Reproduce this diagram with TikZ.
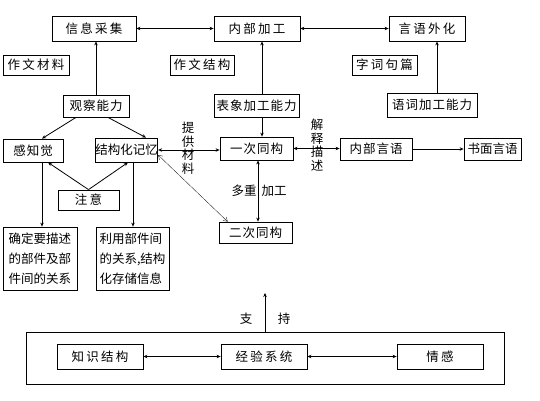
\documentclass[tikz,border=0pt]{standalone}
\usepackage{fontspec}
\newfontfamily\cjk{Noto Sans CJK SC}
\newfontfamily\cjkw[LetterSpace=18]{Noto Sans CJK SC}
\newfontfamily\cjkm[LetterSpace=8]{Noto Sans CJK SC}
\usetikzlibrary{arrows.meta}
\begin{document}
\begin{tikzpicture}[x=1pt,y=-1pt,
  box/.style={draw, line width=0.8pt, inner sep=0pt, font=\cjkm\fontsize{12.5}{14}\selectfont},
  wbox/.style={box, font=\cjkw\fontsize{12.5}{14}\selectfont},
  tbox/.style={box, font=\cjk\fontsize{12.5}{14}\selectfont},
  lbl/.style={inner sep=0pt, font=\cjk\fontsize{12.5}{13.5}\selectfont},
  tip/.style={Stealth[length=4pt,width=3.5pt]},
  arr/.style={line width=0.8pt, -{Stealth[length=4pt,width=3.5pt]}},
  darr/.style={line width=0.8pt, {Stealth[length=4pt,width=3.5pt]}-{Stealth[length=4pt,width=3.5pt]}},
  thin/.style={line width=0.3pt, {Straight Barb[length=4pt,width=5pt]}-{Straight Barb[length=4pt,width=5pt]}}
]
\useasboundingbox (0,0) rectangle (540,400);
% top row
\node[wbox, minimum width=84pt, minimum height=25pt] (xx) at (94,28.5) {信息采集};
\node[wbox, minimum width=86pt, minimum height=25pt] (nb) at (257,28.5) {内部加工};
\node[wbox, minimum width=76pt, minimum height=25pt] (yy) at (427,28.5) {言语外化};
% labels row
\node[tbox, font=\cjkw\fontsize{12.5}{14}\selectfont, minimum width=66pt, minimum height=20pt] (zwcl) at (36,65) {作文材料};
\node[tbox, font=\cjkw\fontsize{12.5}{14}\selectfont, minimum width=64pt, minimum height=20pt] (zwjg) at (202,65) {作文结构};
\node[tbox, font=\cjkw\fontsize{12.5}{14}\selectfont, minimum width=65pt, minimum height=20pt] (zcjp) at (384.5,65) {字词句篇};
% ability row
\node[box, minimum width=66pt, minimum height=22pt] (gc) at (96,106) {观察能力};
\node[box, minimum width=85pt, minimum height=23pt] (bx) at (256.5,105.5) {表象加工能力};
\node[box, minimum width=90pt, minimum height=24pt] (yc) at (432,105) {语词加工能力};
% middle row
\node[box, minimum width=60pt, minimum height=23pt] (gz) at (33,150.5) {感知觉};
\node[tbox, minimum width=61pt, minimum height=24pt] (jg) at (126.5,150) {结构化记忆};
\node[box, minimum width=73pt, minimum height=23pt] (yi) at (256.5,148.5) {一次同构};
\node[box, minimum width=72pt, minimum height=22pt] (ny) at (376,149) {内部言语};
\node[tbox, minimum width=57pt, minimum height=22pt] (sm) at (492.5,149) {书面言语};
\node[wbox, minimum width=61pt, minimum height=20pt] (zy) at (88.5,200) {注意};
\node[box, minimum width=73pt, minimum height=21pt] (er) at (255.5,232.5) {二次同构};
\node[box, minimum width=74pt, minimum height=63pt, align=left, font=\cjk\fontsize{12.5}{20}\selectfont] (qd) at (40,258.5) {确定要描述\\的部件及部\\件间的关系};
\node[box, minimum width=73pt, minimum height=63pt, align=left, font=\cjk\fontsize{12.5}{20}\selectfont] (ly) at (132.5,258.5) {利用部件间\\的关系,结构\\化存储信息};
% vertical labels
\node[lbl, align=center] (tg) at (188,148) {提\\供\\材\\料};
\node[lbl, align=center] (js) at (317,145) {解\\释\\描\\述};
\node[lbl] (dz) at (244,191) {多重};
\node[lbl] (jgg) at (274,191) {加工};
% bottom
\node[draw, line width=0.8pt, minimum width=478pt, minimum height=52pt, inner sep=0pt] (big) at (265,358) {};
\node[wbox, minimum width=86pt, minimum height=25pt] (zs) at (100,356.5) {知识结构};
\node[wbox, minimum width=86pt, minimum height=25pt] (jy) at (264,356.5) {经验系统};
\node[wbox, minimum width=86pt, minimum height=25pt] (qg) at (440,356.5) {情感};
\node[lbl] (zhi) at (246,319) {支};
\node[lbl] (chi) at (284,319) {持};
\coordinate (up) at (265,293);
% connectors top
\draw[darr] (xx.east) -- (nb.west);
\draw[darr] (nb.east) -- (yy.west);
\draw[arr] (gc.north) -- (gc.north |- xx.south);
\draw[arr] ([xshift=5.5pt]bx.north) -- ([xshift=5.5pt]bx.north |- nb.south);
\draw[arr] (yc.north -| 437,0) -- (437,0 |- yy.south);
\draw[arr] ([xshift=5.5pt]bx.south) -- ([xshift=5.5pt]bx.south |- yi.north);
% observation
\draw[arr] ([xshift=-20pt]gc.south) -- ([xshift=9pt]gz.north);
\draw[arr] ([xshift=12pt]gc.south) -- ([xshift=19.5pt]jg.north);
% attention
\draw[arr] (zy.north) -- ([xshift=15pt]gz.south);
\draw[arr] (zy.north) -- ([xshift=1.5pt]jg.south);
% down
\draw[arr] ([xshift=9pt]gz.south) -- ([xshift=9pt]gz.south |- qd.north);
\draw[arr] ([xshift=6.5pt]jg.south) -- ([xshift=6.5pt]jg.south |- ly.north);
% middle
\draw[darr] (jg.east) -- (jg.east -| yi.west);
\draw[darr] (yi.east) -- (yi.east -| ny.west);
\draw[arr] (ny.east) -- (ny.east -| sm.west);
\draw[darr] ([xshift=1.5pt]yi.south) -- ([xshift=1.5pt]yi.south |- er.north);
\draw[thin] ([yshift=-5pt]jg.east) -- ([xshift=9pt]er.north west);
% bottom
\draw[darr] (zs.east) -- (jy.west);
\draw[darr] (jy.east) -- (qg.west);
\draw[arr] (big.north -| up) -- (up);
\end{tikzpicture}
\end{document}
